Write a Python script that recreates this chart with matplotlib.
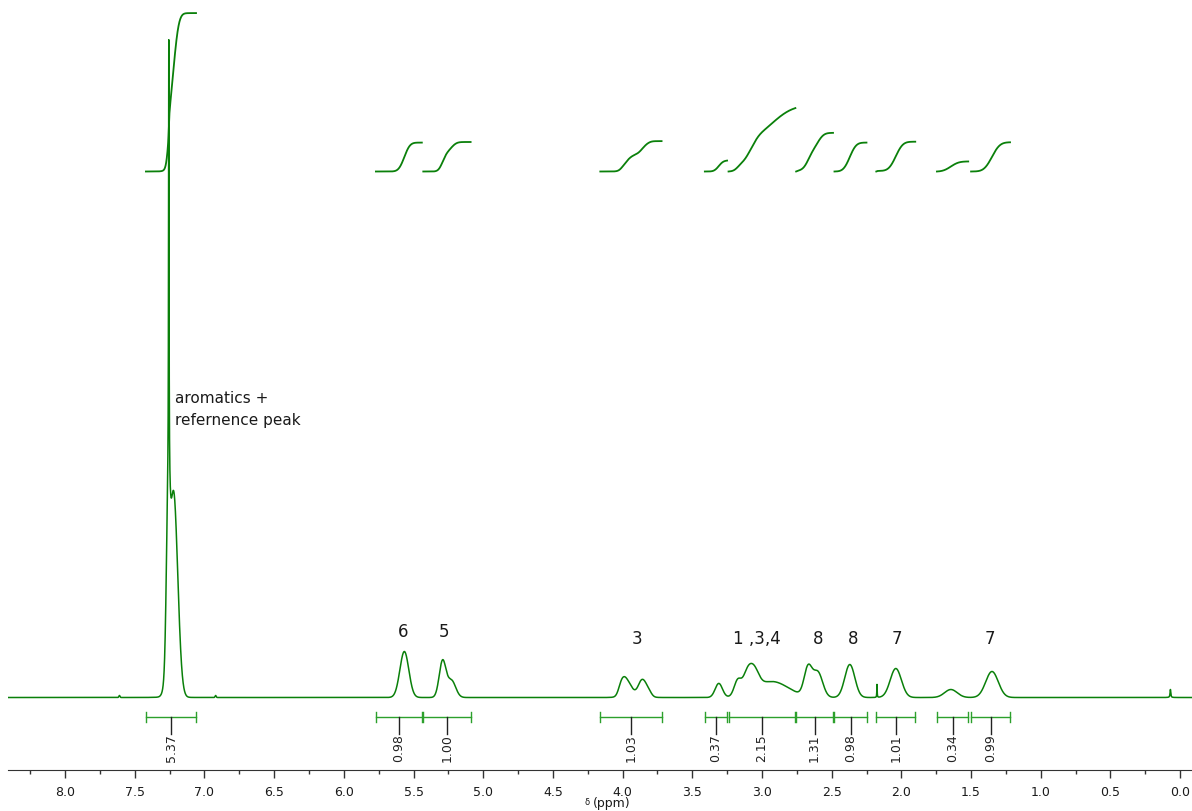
import numpy as np
import matplotlib.pyplot as plt
from matplotlib.ticker import MultipleLocator, FormatStrFormatter

plt.rcParams['font.family'] = ['DejaVu Sans']

# broad multiplets: centre (ppm), height, gaussian sigma (ppm)
broad_ppm = [7.222, 7.262, 7.610, 6.920,
             5.566, 5.292, 5.228,
             4.010, 3.982, 3.952, 3.920, 3.870, 3.843, 3.812,
             3.310, 3.175, 3.110, 3.060, 2.930,
             2.670, 2.600, 2.370, 2.040, 1.645, 1.350]
broad_height = [205, 120, 2, 2,
                46, 36, 17,
                11, 11, 6, 6, 9, 9, 5,
                14, 15, 16, 20, 16,
                28, 25, 33, 29, 8, 26]
broad_sigma = [0.030, 0.012, 0.004, 0.004,
               0.032, 0.024, 0.030,
               0.020, 0.020, 0.020, 0.060, 0.020, 0.020, 0.020,
               0.026, 0.025, 0.030, 0.035, 0.120,
               0.028, 0.035, 0.036, 0.040, 0.045, 0.045]

# sharp singlets (CHCl3, impurity, TMS): centre, height, half width
sharp_ppm = [7.256, 2.175, 0.070]
sharp_height = [444, 13, 8]
sharp_hwhm = [0.002, 0.0015, 0.003]

# integration ranges (ppm) and integral values
int_start = [7.42, 5.77, 5.43, 4.16, 3.41, 3.24, 2.755, 2.48, 2.18, 1.745, 1.50]
int_end = [7.06, 5.44, 5.09, 3.72, 3.25, 2.76, 2.49, 2.25, 1.90, 1.52, 1.22]
int_value = [5.37, 0.98, 1.00, 1.03, 0.37, 2.15, 1.31, 0.98, 1.01, 0.34, 0.99]

# assignments above the peaks
assign_text = ['6', '5', '3', '1 ,3,4', '8', '8', '7', '7']
assign_ppm = [5.575, 5.28, 3.897, 3.036, 2.598, 2.347, 2.03, 1.364]
assign_y = [67, 67, 60, 60, 60, 60, 60, 60]

green = '#0a800a'

ppm = np.arange(8.41, -0.09, -0.0005)
spec = np.zeros_like(ppm)
for c, h, s in zip(broad_ppm, broad_height, broad_sigma):
    spec += h * np.exp(-(ppm - c) ** 2 / (2 * s ** 2))
for c, h, w in zip(sharp_ppm, sharp_height, sharp_hwhm):
    spec += h * w ** 2 / ((ppm - c) ** 2 + w ** 2)

fig = plt.figure(figsize=(11.92, 8.12), dpi=100)
ax = fig.add_axes([0.007, 0.0511, 0.993, 0.9489])
ax.plot(ppm, spec, color=green, lw=1.1)

# integral curves
int_base = 526
int_scale = 29.5
for a, b, v in zip(int_start, int_end, int_value):
    m = (ppm <= a) & (ppm >= b)
    cum = np.cumsum(spec[m])
    cum = cum / cum[-1] * v * int_scale
    ax.plot(ppm[m], int_base + cum, color=green, lw=1.3)

# integral brackets and values
yb = -19
for a, b, v in zip(int_start, int_end, int_value):
    ax.plot([a, b], [yb, yb], color='#2ca02c', lw=1)
    ax.plot([a, a], [yb - 5, yb + 5], color='#2ca02c', lw=1)
    ax.plot([b, b], [yb - 5, yb + 5], color='#2ca02c', lw=1)
    mid = (a + b) / 2
    ax.plot([mid, mid], [yb, yb - 17], color='#222222', lw=1)
    ax.text(mid, yb - 17, '%.2f' % v, rotation=90, ha='center', va='top',
            fontsize=9, color='#222222')

for t, x, y in zip(assign_text, assign_ppm, assign_y):
    ax.text(x, y, t, ha='center', va='center', fontsize=12, color='#1a1a1a')

ax.text(7.211, 300, 'aromatics +', ha='left', va='center', fontsize=11, color='#1a1a1a')
ax.text(7.211, 278, 'refernence peak', ha='left', va='center', fontsize=11, color='#1a1a1a')

ax.set_xlim(8.407, -0.085)
ax.set_ylim(-72, 698.5)
for s in ['top', 'left', 'right']:
    ax.spines[s].set_visible(False)
ax.spines['bottom'].set_color('#333333')
ax.set_yticks([])
ax.xaxis.set_major_locator(MultipleLocator(0.5))
ax.xaxis.set_minor_locator(MultipleLocator(0.25))
ax.xaxis.set_major_formatter(FormatStrFormatter('%.1f'))
ax.tick_params(axis='x', which='major', length=6, width=1, color='#333333',
               labelsize=9, labelcolor='#1a1a1a', pad=5)
ax.tick_params(axis='x', which='minor', length=3, width=1, color='#333333')

fig.text(587 / 1192, 1 - 803 / 812, 'δ', fontsize=6, ha='center', va='center', color='#1a1a1a')
fig.text(593 / 1192, 1 - 804 / 812, '(ppm)', fontsize=9, ha='left', va='center', color='#1a1a1a')

fig.savefig('out.png', dpi=100)
